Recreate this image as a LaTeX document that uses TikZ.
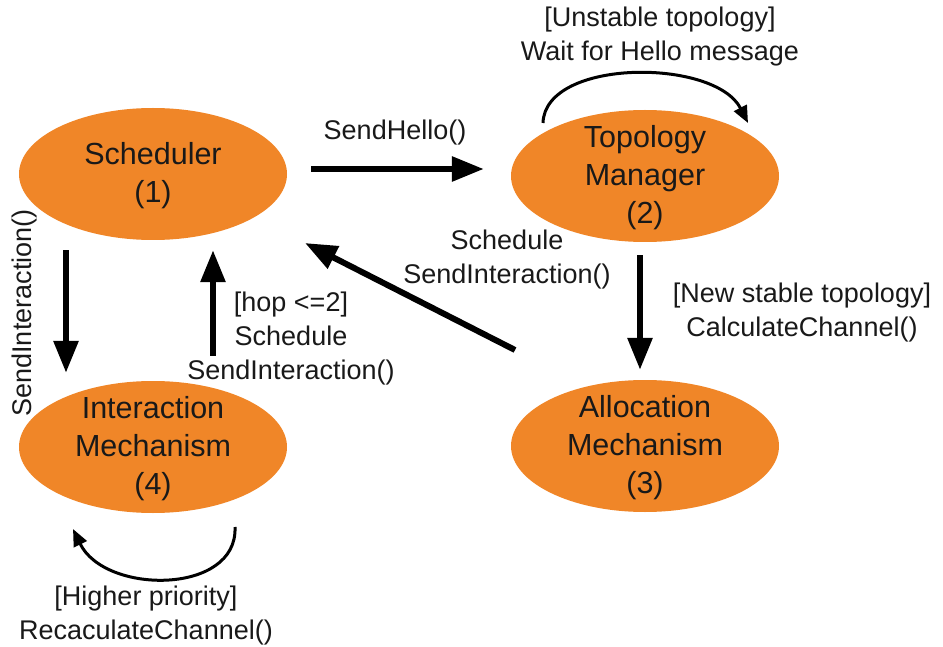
\documentclass[tikz,border=0pt]{standalone}
\usepackage{fontspec}
\setmainfont{Liberation Sans}
\usetikzlibrary{shapes.geometric,arrows.meta}
\definecolor{orng}{RGB}{240,134,40}
\definecolor{ink}{RGB}{25,25,25}
\newcommand{\stxt}[1]{\smash{\raisebox{-0.25em}{\begin{tabular}{@{}c@{}}#1\end{tabular}}}}
\begin{document}
\begin{tikzpicture}[x=1pt,y=-1pt,
  state/.style={ellipse, fill=orng, draw=none, minimum width=268pt, minimum height=132pt,
    inner sep=0pt, text=ink, font=\fontsize{30.5}{38}\selectfont},
  lbl/.style={align=center, text=ink, font=\fontsize{27}{34}\selectfont, inner sep=0pt},
  bigarrow/.style={line width=6pt, -{Triangle[length=32pt,width=24pt]}},
  looparrow/.style={line width=3pt, -{Triangle[length=17pt,width=14pt]}}]
\useasboundingbox (0,0) rectangle (943,647);

\node[state] (sched) at (153,174) {\stxt{Scheduler\\(1)}};
\node[state] (topo)  at (645,176) {\stxt{Topology\\Manager\\(2)}};
\node[state] (inter) at (153,447) {\stxt{Interaction\\Mechanism\\(4)}};
\node[state] (alloc) at (645,446) {\stxt{Allocation\\Mechanism\\(3)}};

% arrows
\draw[bigarrow, shorten <=24pt, shorten >=27pt] (sched.east |- 0,169) -- (topo.west |- 0,169);
\draw[bigarrow, shorten <=10pt, shorten >=8pt] (sched.south -| 66,0) -- (inter.north -| 66,0);
\draw[bigarrow, shorten <=25pt, shorten >=10pt] (inter.north -| 213,0) -- (sched.south -| 213,0);
\draw[bigarrow, shorten <=13pt, shorten >=10pt] (topo.south -| 640,0) -- (alloc.north -| 640,0);
\draw[bigarrow] ([shift={(-130,-96)}]alloc.center) -- ([shift={(152,69)}]sched.center);

% self loops
\draw[looparrow] ([shift={(-102,-53)}]topo.center) .. controls (545,58) and (715,58) .. ([shift={(103,-53)}]topo.center);
\draw[looparrow] ([shift={(82,80)}]inter.center) .. controls (238,595) and (105,595) .. ([shift={(-80,82)}]inter.center);

% labels
\node[lbl] (lhello) at (395,133) {SendHello()};
\node[lbl, rotate=90] (lsend) at (25,313) {SendInteraction()};
\node[lbl] (lhop) at (291,339) {[hop <=2]\\Schedule\\SendInteraction()};
\node[lbl] (lsched) at (507,260) {Schedule\\SendInteraction()};
\node[lbl] (lnew) at (802,313) {[New stable topology]\\CalculateChannel()};
\node[lbl] (lunst) at (660,37) {[Unstable topology]\\Wait for Hello message};
\node[lbl] (lhigh) at (146,616) {[Higher priority]\\RecaculateChannel()};
\end{tikzpicture}
\end{document}
